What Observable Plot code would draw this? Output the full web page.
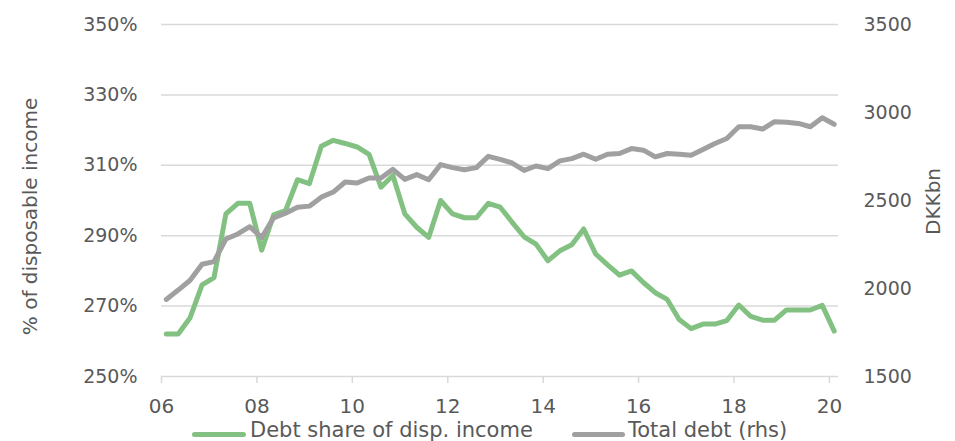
<!DOCTYPE html>
<html><head><meta charset="utf-8">
<script src="https://cdn.jsdelivr.net/npm/d3@7"></script>
<script src="https://cdn.jsdelivr.net/npm/@observablehq/plot@0.6"></script>
<style>
body{margin:0;background:#fff;font-family:"DejaVu Sans",sans-serif;color:#595959;}
#wrap{position:relative;width:955px;height:441px;overflow:hidden;}
#wrap svg{position:absolute;left:0;top:0;}
.sw{position:absolute;height:5px;border-radius:2.5px;}
.lt{position:absolute;font-size:21px;line-height:16px;white-space:nowrap;color:#595959;}
</style></head><body><div id="wrap"></div>
<script>
// Quarterly observations, 2006Q1 - 2020Q1
const startYear = 2006;
const debtShare = [262.1,262.1,266.7,276,278.1,296.2,299.2,299.2,285.9,295.9,
  297.1,305.9,304.8,315.4,317.1,316.2,315.2,313.1,303.8,307.1,
  296.2,292.4,289.5,300,296.2,295.1,295.1,299.2,298.1,293.8,
  289.7,287.6,282.9,285.7,287.4,291.9,284.8,281.7,278.8,280,
  276.7,273.8,271.9,266.2,263.6,264.9,264.9,265.9,270.3,267.1,
  266,266,268.9,268.9,268.9,270.2,262.9];
const totalDebt = [1938,1991,2047,2138,2153,2281,2310,2351,2290,2401,
  2428,2462,2468,2519,2548,2605,2599,2628,2628,2677,
  2620,2647,2618,2704,2687,2675,2687,2751,2734,2713,
  2671,2696,2681,2725,2738,2763,2734,2763,2767,2795,
  2786,2748,2767,2763,2757,2790,2824,2852,2919,2919,
  2906,2948,2944,2938,2919,2970,2933];
const leftTicks = [250,270,290,310,330,350];
const rightTicks = [1500,2000,2500,3000,3500];
const xTicks = [2006,2008,2010,2012,2014,2016,2018,2020];
const seriesNames = ["Debt share of disp. income","Total debt (rhs)"];
const colors = ["#82c182","#a0a0a0"];

const dates = debtShare.map((_, i) => startYear + 0.1 + i / 4);
const toLeft = d3.scaleLinear().domain([1500,3500]).range([250,350]);
const share = debtShare.map((v,i)=>({x:dates[i], y:v}));
const debt = totalDebt.map((v,i)=>({x:dates[i], y:toLeft(v)}));

const txt = "#595959", grid = "#d9d9d9";
const plot = Plot.plot({
  width:955, height:441,
  marginTop:24, marginBottom:65, marginLeft:161, marginRight:117,
  style:{fontFamily:"DejaVu Sans", fontSize:"19px", background:"white", overflow:"visible"},
  x:{domain:[2006,2020.19]},
  y:{domain:[250,350]},
  marks:[
    Plot.ruleY(leftTicks,{stroke:grid, strokeWidth:1.5}),
    Plot.axisX({ticks:xTicks, tickFormat:d=>String(d%100).padStart(2,"0"), tickSize:7, tickPadding:15,
      stroke:grid, strokeWidth:1.5, fill:txt, fontSize:20, label:null}),
    Plot.axisY({anchor:"left", ticks:leftTicks, tickFormat:d=>d+"%", tickSize:0, tickPadding:24, fill:txt, label:null}),
    Plot.axisY({anchor:"right", ticks:rightTicks.map(toLeft), tickFormat:d=>String(Math.round(toLeft.invert(d))),
      tickSize:0, tickPadding:25, fill:txt, label:null}),
    Plot.line(share,{x:"x", y:"y", stroke:colors[0], strokeWidth:5, strokeLinejoin:"round", strokeLinecap:"round"}),
    Plot.line(debt,{x:"x", y:"y", stroke:colors[1], strokeWidth:5, strokeLinejoin:"round", strokeLinecap:"round"}),
    Plot.text(["% of disposable income"],{frameAnchor:"left", textAnchor:"middle", dx:-131, dy:16, rotate:-90, fontSize:20, fill:txt}),
    Plot.text(["DKKbn"],{frameAnchor:"right", textAnchor:"middle", dx:95, dy:1, rotate:-90, fontSize:20, fill:txt})
  ]
});
const wrap = document.getElementById("wrap");
wrap.appendChild(plot);
const leg = [
  {sw:192, w:54, tx:250},
  {sw:572, w:53, tx:628}
];
leg.forEach((l,i)=>{
  const s=document.createElement("div"); s.className="sw";
  s.style.left=l.sw+"px"; s.style.top="432px"; s.style.width=l.w+"px"; s.style.background=colors[i];
  wrap.appendChild(s);
  const t=document.createElement("div"); t.className="lt";
  t.style.left=l.tx+"px"; t.style.top="421.5px"; t.textContent=seriesNames[i];
  wrap.appendChild(t);
});
</script></body></html>
